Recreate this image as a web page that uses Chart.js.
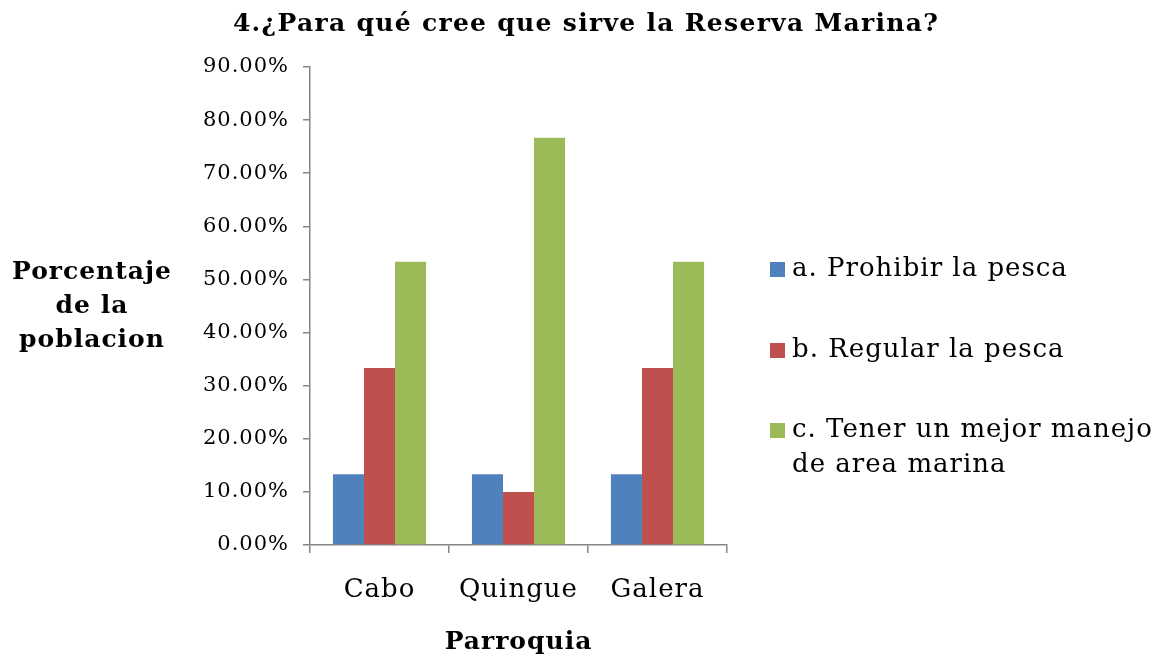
<!DOCTYPE html>
<html>
<head>
<meta charset="utf-8">
<script src="https://cdn.jsdelivr.net/npm/chart.js@4/dist/chart.umd.min.js"></script>
<style>
  html, body { margin: 0; padding: 0; background: #fff; }
  #wrap { width: 1173px; height: 660px; position: relative; }
</style>
</head>
<body>
<div id="wrap"><canvas id="chart"></canvas></div>
<script>
// survey answers per parroquia, in %
const parroquias = ["Cabo", "Quingue", "Galera"];
const prohibir = [13.33, 13.33, 13.33];
const regular = [33.33, 10.00, 33.33];
const manejo = [53.33, 76.67, 53.33];
const seriesNames = ["a. Prohibir la pesca", "b. Regular la pesca", ["c. Tener un mejor manejo", "de area marina"]];
const seriesColors = ["#4F81BD", "#C0504D", "#9BBB59"];

const titleText = "4.¿Para qué cree que sirve la Reserva Marina?";
const yTitle = ["Porcentaje", "de la", "poblacion"];
const xTitle = "Parroquia";

const serif = '"DejaVu Serif", "Liberation Serif", serif';

// the original font is wider than DejaVu, so widen a little with spacing
const spacing = {
    id: "spacing",
    beforeUpdate(chart) { chart.ctx.letterSpacing = "1px"; },
    beforeLayout(chart) { chart.ctx.letterSpacing = "1px"; },
    beforeDraw(chart) { chart.ctx.letterSpacing = "1px"; }
};

// title, axis titles and legend are drawn by hand
const textPlugin = {
    id: "texts",
    afterDraw(chart) {
        const ctx = chart.ctx;
        const area = chart.chartArea;
        ctx.save();
        ctx.fillStyle = "#000";
        ctx.textBaseline = "middle";
        ctx.textAlign = "center";

        ctx.font = "bold 25px " + serif;
        ctx.letterSpacing = "1.3px";
        ctx.fillText(titleText, 586, 24);

        ctx.letterSpacing = "1px";
        for (let i = 0; i < yTitle.length; i++) {
            ctx.fillText(yTitle[i], 92, 272 + i * 34);
        }
        ctx.fillText(xTitle, (area.left + area.right) / 2, 642);

        // legend
        ctx.font = "26px " + serif;
        ctx.textAlign = "left";
        const rowsY = [269, 350, 430];
        for (let k = 0; k < seriesNames.length; k++) {
            ctx.fillStyle = seriesColors[k];
            ctx.fillRect(770, rowsY[k] - 7, 15, 15);
            ctx.fillStyle = "#000";
            let lines = Array.isArray(seriesNames[k]) ? seriesNames[k] : [seriesNames[k]];
            lines.forEach((ln, j) => ctx.fillText(ln, 792, rowsY[k] + j * 35));
        }
        ctx.restore();
    }
};

const datasets = [prohibir, regular, manejo].map((vals, i) => ({
    label: Array.isArray(seriesNames[i]) ? seriesNames[i].join(" ") : seriesNames[i],
    data: vals,
    backgroundColor: seriesColors[i],
    borderWidth: 0,
    categoryPercentage: 0.67,
    barPercentage: 1.0
}));

new Chart(document.getElementById("chart"), {
    type: "bar",
    data: { labels: parroquias, datasets: datasets },
    options: {
        responsive: true,
        maintainAspectRatio: false,
        animation: false,
        layout: { padding: { top: 67, right: 446, bottom: 0, left: 0 } },
        plugins: {
            legend: { display: false },
            title: { display: false },
            tooltip: { enabled: false }
        },
        scales: {
            x: {
                afterFit(scale) { scale.height = 115; },
                grid: {
                    offset: true,
                    drawOnChartArea: false,
                    drawTicks: true,
                    tickLength: 8,
                    color: "#868686",
                    lineWidth: 1.5
                },
                border: { color: "#868686", width: 1.5 },
                ticks: {
                    color: "#000",
                    padding: 22,
                    font: { family: serif, size: 26 }
                }
            },
            y: {
                min: 0,
                max: 90,
                afterFit(scale) { scale.width = 310; },
                grid: {
                    drawOnChartArea: false,
                    drawTicks: true,
                    tickLength: 7,
                    color: "#868686",
                    lineWidth: 1.5
                },
                border: { color: "#868686", width: 1.5 },
                ticks: {
                    stepSize: 10,
                    color: "#000",
                    padding: 14,
                    font: { family: serif, size: 21 },
                    callback: (v) => v.toFixed(2) + "%"
                }
            }
        }
    },
    plugins: [spacing, textPlugin]
});
</script>
</body>
</html>
